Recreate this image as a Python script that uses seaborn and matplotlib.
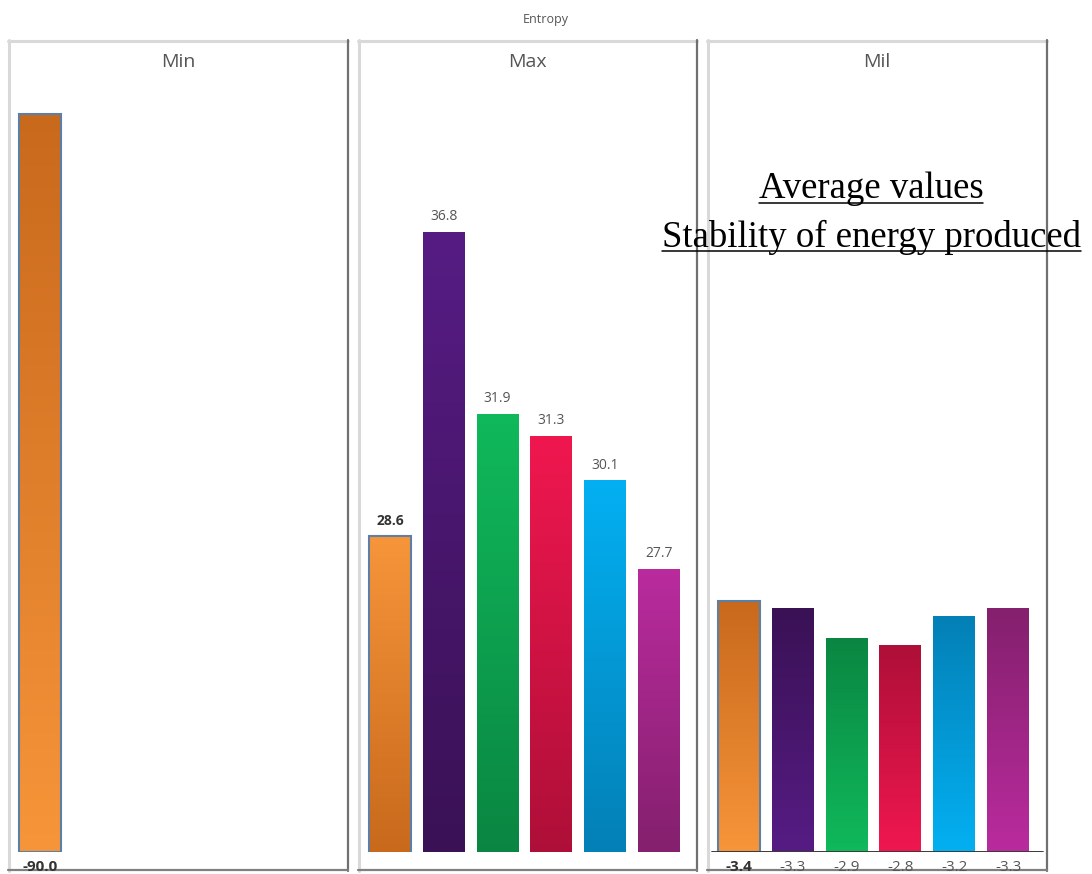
import numpy as np
import pandas as pd
import matplotlib
matplotlib.use("Agg")
import matplotlib.pyplot as plt
import seaborn as sns
from matplotlib.lines import Line2D
from matplotlib.colors import to_rgb

# ---- data -------------------------------------------------------------
series = ["S1", "S2", "S3", "S4", "S5", "S6"]
panels = ["Min", "Max", "Mil"]
min_values = [-90.0]
max_values = [28.6, 36.8, 31.9, 31.3, 30.1, 27.7]
mil_values = [-3.4, -3.3, -2.9, -2.8, -3.2, -3.3]
light_colors = ["#F7953A", "#561C84", "#10B95B", "#F0174F", "#04B0F2", "#BA2B9E"]
dark_colors = ["#C8691C", "#3A1155", "#0A8642", "#AE0F38", "#0380B6", "#84206D"]
chart_title = "Entropy"
note_lines = ["Average values", "Stability of energy produced"]

# ---- layout (figure pixels) ------------------------------------------
W, H = 1092, 874
sns.set_theme(style="white")
plt.rcParams["font.family"] = ["Open Sans", "DejaVu Sans"]

fig = plt.figure(figsize=(W / 100, H / 100), dpi=100)
fig.patch.set_facecolor("white")


def fx(x):
    return x / W


def fy(y):
    return 1 - y / H


def paint_gradient(ax, patch, c_base, c_end):
    x, y = patch.get_x(), patch.get_y()
    w, h = patch.get_width(), patch.get_height()
    lo, hi = sorted(ax.get_ylim())
    y0 = float(np.clip(y, lo, hi))
    y1 = float(np.clip(y + h, lo, hi))
    t = np.linspace(0, 1, 256)[:, None]
    rgb = (1 - t) * np.array(to_rgb(c_base)) + t * np.array(to_rgb(c_end))
    ax.imshow(rgb[:, None, :], extent=[x, x + w, y0, y1], origin="lower",
              aspect="auto", interpolation="bilinear", clip_path=patch,
              zorder=patch.get_zorder() - 0.01)


panel_specs = [
    # name, values, left, right, ylim, light at value end?, label side
    ("Min", min_values, 8, 348, (0, -98.8), False, "below"),
    ("Max", max_values, 358, 697, (20.08, 41.95), True, "above"),
    ("Mil", mil_values, 707, 1047, (0, -10.99), False, "below"),
]

TOP, AX_BOTTOM, BOTTOM = 41, 852, 870
SLOT = 53.8
LEFT_PAD = 31


def frame_line(xs, ys, color, lw):
    fig.add_artist(Line2D([fx(v) for v in xs], [fy(v) for v in ys],
                          color=color, lw=lw, transform=fig.transFigure,
                          zorder=-1))


for name, vals, L, R, ylim, light_end, side in panel_specs:
    # panel frame: light top/left, dark right/bottom
    frame_line([L + 1, L + 1], [TOP - 1, BOTTOM + 1], "#d9d9d9", 2.2)
    frame_line([L, R], [TOP, TOP], "#d9d9d9", 2.2)
    frame_line([R, R], [TOP - 1, BOTTOM + 1], "#707070", 1.6)
    frame_line([L, R], [BOTTOM, BOTTOM], "#808080", 1.6)
    fig.text(fx((L + R) / 2), fy(62), name, ha="center", va="center",
             fontsize=14, color="#555555")

    ax = fig.add_axes([fx(L + 1), fy(AX_BOTTOM), fx(R - 1) - fx(L + 1),
                       (AX_BOTTOM - TOP - 1) / H])
    ax.patch.set_alpha(0)
    df = pd.DataFrame({"series": series[:len(vals)], "value": vals})
    sns.barplot(data=df, x="series", y="value", hue="series", order=series,
                hue_order=series, palette=dict(zip(series, light_colors)),
                width=0.78, saturation=1, errorbar=None, legend=False, ax=ax)

    width_units = (R - L - 2) / SLOT
    x0 = -LEFT_PAD / SLOT
    ax.set_xlim(x0, x0 + width_units)
    ax.set_ylim(*ylim)

    for patch in list(ax.patches):
        idx = int(round(patch.get_x() + patch.get_width() / 2))
        if idx >= len(vals):
            continue
        if light_end:
            paint_gradient(ax, patch, dark_colors[idx], light_colors[idx])
        else:
            paint_gradient(ax, patch, light_colors[idx], dark_colors[idx])
        patch.set_facecolor("none")
        if idx == 0:
            patch.set_edgecolor("#5B7FA6")
            patch.set_linewidth(1.5)
        else:
            patch.set_edgecolor("none")

        v = vals[idx]
        cx = patch.get_x() + patch.get_width() / 2
        weight = "bold" if idx == 0 else "normal"
        color = "#333333" if idx == 0 else "#555555"
        if side == "above":
            ax.annotate(f"{v:.1f}", xy=(cx, v), xytext=(0, 6),
                        textcoords="offset points", ha="center", va="bottom",
                        fontsize=10, fontweight=weight, color=color,
                        annotation_clip=False)
        else:
            ax.annotate(f"{v:.1f}", xy=(cx, 0), xytext=(0, -5.5),
                        textcoords="offset points", ha="center", va="top",
                        fontsize=11, fontweight=weight, color=color,
                        annotation_clip=False)

    ax.set_xlim(x0, x0 + width_units)
    ax.set_ylim(*ylim)
    if name == "Mil":
        ax.axhline(0, xmin=4 / (R - L), xmax=(R - L - 3) / (R - L),
                   color="#3a3a3a", lw=1.4, zorder=5)
    ax.set_axis_off()

fig.text(fx(546), fy(19), chart_title, ha="center", va="center",
         fontsize=9, color="#555555")

# underlined note over the right panel
baselines = [198, 247]
fig.canvas.draw()
renderer = fig.canvas.get_renderer()
for line, base in zip(note_lines, baselines):
    t = fig.text(fx(871), fy(base), line, ha="center", va="baseline",
                 fontsize=26.5, family=["Liberation Serif", "DejaVu Serif"],
                 color="black", zorder=10)
    bb = t.get_window_extent(renderer=renderer)
    fig.add_artist(Line2D([bb.x0 / W, bb.x1 / W], [fy(base + 4.5), fy(base + 4.5)],
                          color="black", lw=1.1, transform=fig.transFigure,
                          zorder=10))

fig.savefig("out.png", dpi=100, facecolor="white")
